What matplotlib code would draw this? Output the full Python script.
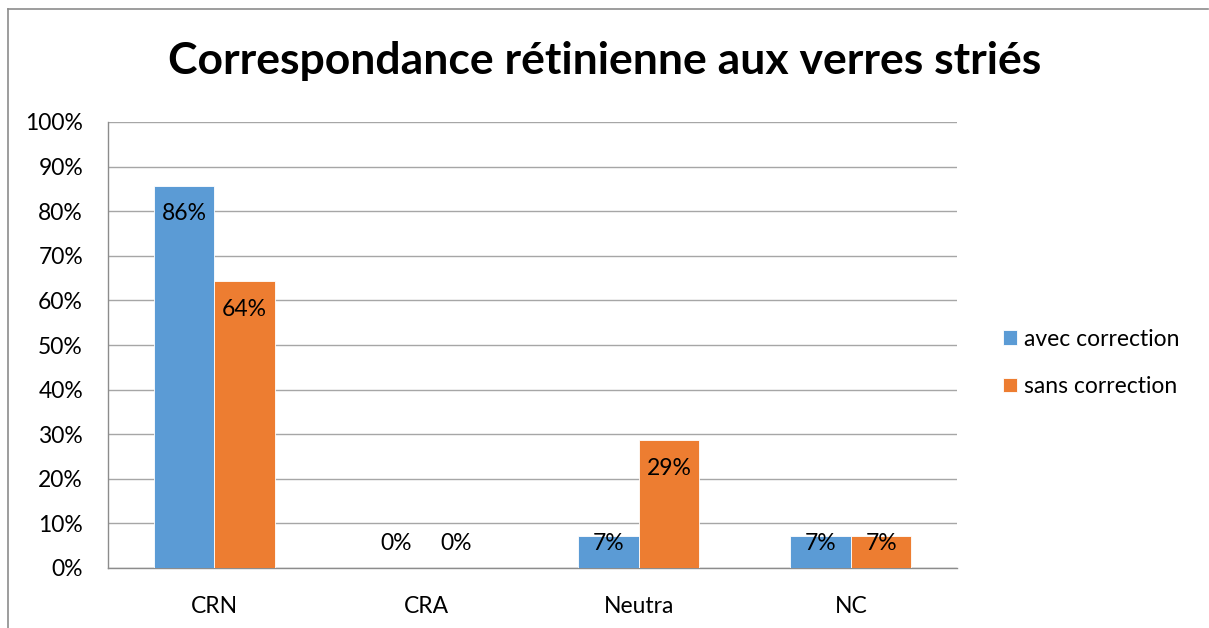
import matplotlib
matplotlib.use("Agg")
import matplotlib.pyplot as plt
from matplotlib.lines import Line2D
from matplotlib.ticker import PercentFormatter

plt.rcParams['font.family'] = ['Lato', 'DejaVu Sans']

categories = ["CRN", "CRA", "Neutra", "NC"]
avec_correction = [85.7, 0.0, 7.1, 7.1]
sans_correction = [64.3, 0.0, 28.6, 7.1]
series_names = ["avec correction", "sans correction"]
colors = ["#5B9BD5", "#ED7D31"]
title = "Correspondance rétinienne aux verres striés"

W, H = 1209, 628
fig = plt.figure(figsize=(W / 100, H / 100), dpi=100)
ax = fig.add_axes([108 / W, 1 - 568 / H, (957 - 108) / W, (568 - 122) / H])

x = list(range(len(categories)))
bw = 0.285
grid_c = "#A6A6A6"
spine_c = "#8C8C8C"
fs = 16.5

for i, (vals, name, col) in enumerate(zip([avec_correction, sans_correction], series_names, colors)):
    pos = [xi + (i - 0.5) * bw for xi in x]
    ax.bar(pos, vals, width=bw, color=col, label=name, zorder=3,
           edgecolor="white", linewidth=0.6)
    for p, v in zip(pos, vals):
        ly = max(v - 6.3, 5.6)
        ax.text(p, ly, f"{v:.0f}%", ha="center", va="center",
                fontsize=fs, color="black", zorder=4)

ax.set_xlim(-0.5, len(categories) - 0.5)
ax.set_ylim(0, 100)
ax.set_yticks(range(0, 101, 10))
ax.yaxis.set_major_formatter(PercentFormatter(decimals=0))
ax.set_xticks(x)
ax.set_xticklabels(categories)
ax.tick_params(axis="both", length=0, labelsize=fs, colors="black")
ax.tick_params(axis="y", pad=18)
ax.tick_params(axis="x", pad=20)
ax.yaxis.grid(True, color=grid_c, linewidth=1.0, zorder=0)
ax.set_axisbelow(True)
for s in ["top", "right"]:
    ax.spines[s].set_visible(False)
for s in ["left", "bottom"]:
    ax.spines[s].set_color(spine_c)
    ax.spines[s].set_linewidth(1.0)

fig.text(0.5, 1 - 61 / H, title, ha="center", va="center",
         fontsize=32, fontweight="bold", color="black")

ax.legend(loc="center left", bbox_to_anchor=(992 / W, 1 - 363 / H),
          bbox_transform=fig.transFigure, frameon=False, fontsize=16.5,
          handlelength=0.6, handleheight=0.6, handletextpad=0.3,
          labelspacing=1.15, borderpad=0)

# outer chart frame (top and left edges)
fig.add_artist(Line2D([8 / W, 1208 / W], [1 - 9 / H, 1 - 9 / H],
                      transform=fig.transFigure, color="#8C8C8C", linewidth=1.2))
fig.add_artist(Line2D([8 / W, 8 / W], [1 - 9 / H, 0],
                      transform=fig.transFigure, color="#8C8C8C", linewidth=1.2))

fig.savefig("out.png", dpi=100, facecolor="white")
